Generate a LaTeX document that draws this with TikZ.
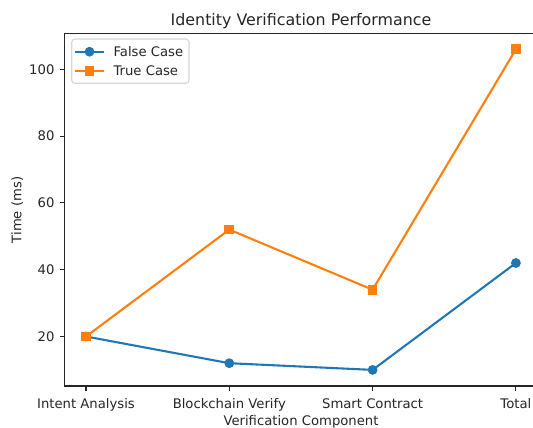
\documentclass[tikz,border=0pt]{standalone}
\usepackage{fontspec}
\setmainfont{DejaVu Sans}
\definecolor{mplblue}{HTML}{1F77B4}
\definecolor{mplorange}{HTML}{FF7F0E}
\definecolor{legedge}{HTML}{D6D6D6}
\definecolor{txt}{HTML}{262626}
\begin{document}
\begin{tikzpicture}[x=0.75pt,y=-0.75pt,
  axisline/.style={line width=0.83pt,draw=black!85,line cap=rect},
  tickmark/.style={line width=0.83pt,draw=black!85},
  ticklabel/.style={inner sep=0pt,text=txt,font=\fontsize{9.9}{12}\selectfont},
  titlelabel/.style={inner sep=0pt,text=txt,font=\fontsize{11.9}{14.5}\selectfont},
  fcline/.style={line width=1.56pt,draw=mplblue,line join=round},
  tcline/.style={line width=1.56pt,draw=mplorange,line join=round},
  fcmark/.style={circle,minimum size=6.25pt,inner sep=0pt,fill=mplblue,draw=mplblue,line width=1.04pt},
  tcmark/.style={rectangle,minimum size=6.25pt,inner sep=0pt,fill=mplorange,draw=mplorange,line width=1.04pt},
  legendbox/.style={draw=legedge,fill=white,line width=0.83pt,rounded corners=2.5pt}
]
\useasboundingbox (0,0) rectangle (533,428);
\fill[white] (0,0) rectangle (533,428);

% spines
\draw[axisline] (533,33.2) -- (64.5,33.2) -- (64.5,386) -- (533,386);

% x ticks
\foreach \xx/\lab/\nm in {86/Intent Analysis/xa,229.3/Blockchain Verify/xb,372.6/Smart Contract/xc,515.9/Total/xd}{
  \draw[tickmark] (\xx,386) -- (\xx,390.9);
  \node[ticklabel,anchor=base] (\nm) at (\xx,408.3) {\lab};
}
% y ticks
\foreach \yy/\lab/\nm in {336.5/20/ya,269.7/40/yb,202.9/60/yc,136.1/80/yd,69.3/100/ye}{
  \draw[tickmark] (64.5,\yy) -- (59.6,\yy);
  \node[ticklabel,anchor=east] (\nm) at (54.7,\yy) {\lab};
}

% labels
\node[titlelabel,anchor=base] (title) at (301,25.3) {Identity Verification Performance};
\node[ticklabel,anchor=base] (xlab) at (301,425.3) {Verification Component};
\node[ticklabel,rotate=90] (ylab) at (17.3,210) {Time (ms)};

% False case
\coordinate (f0) at (86,336.5);
\coordinate (f1) at (229.3,363.2);
\coordinate (f2) at (372.6,369.9);
\coordinate (f3) at (515.9,263.0);
\draw[fcline] (f0) -- (f1) -- (f2) -- (f3);
\foreach \p in {f0,f1,f2,f3}{\node[fcmark] (m\p) at (\p) {};}

% True case
\coordinate (t0) at (86,336.5);
\coordinate (t1) at (229.3,229.6);
\coordinate (t2) at (372.6,289.7);
\coordinate (t3) at (515.9,49.3);
\draw[tcline] (t0) -- (t1) -- (t2) -- (t3);
\foreach \p in {t0,t1,t2,t3}{\node[tcmark] (m\p) at (\p) {};}

% legend
\draw[legendbox] (71.7,39) rectangle (189,83.3);
\coordinate (lfa) at (75,51.7);
\coordinate (lfb) at (104,51.7);
\draw[fcline] (lfa) -- (lfb);
\node[fcmark] (lfm) at (89.5,51.7) {};
\node[ticklabel,anchor=base west] (lft) at (113.3,56.5) {False Case};
\coordinate (lta) at (75,70.7);
\coordinate (ltb) at (104,70.7);
\draw[tcline] (lta) -- (ltb);
\node[tcmark] (ltm) at (89.5,70.7) {};
\node[ticklabel,anchor=base west] (ltt) at (113.3,75.5) {True Case};
\end{tikzpicture}
\end{document}
